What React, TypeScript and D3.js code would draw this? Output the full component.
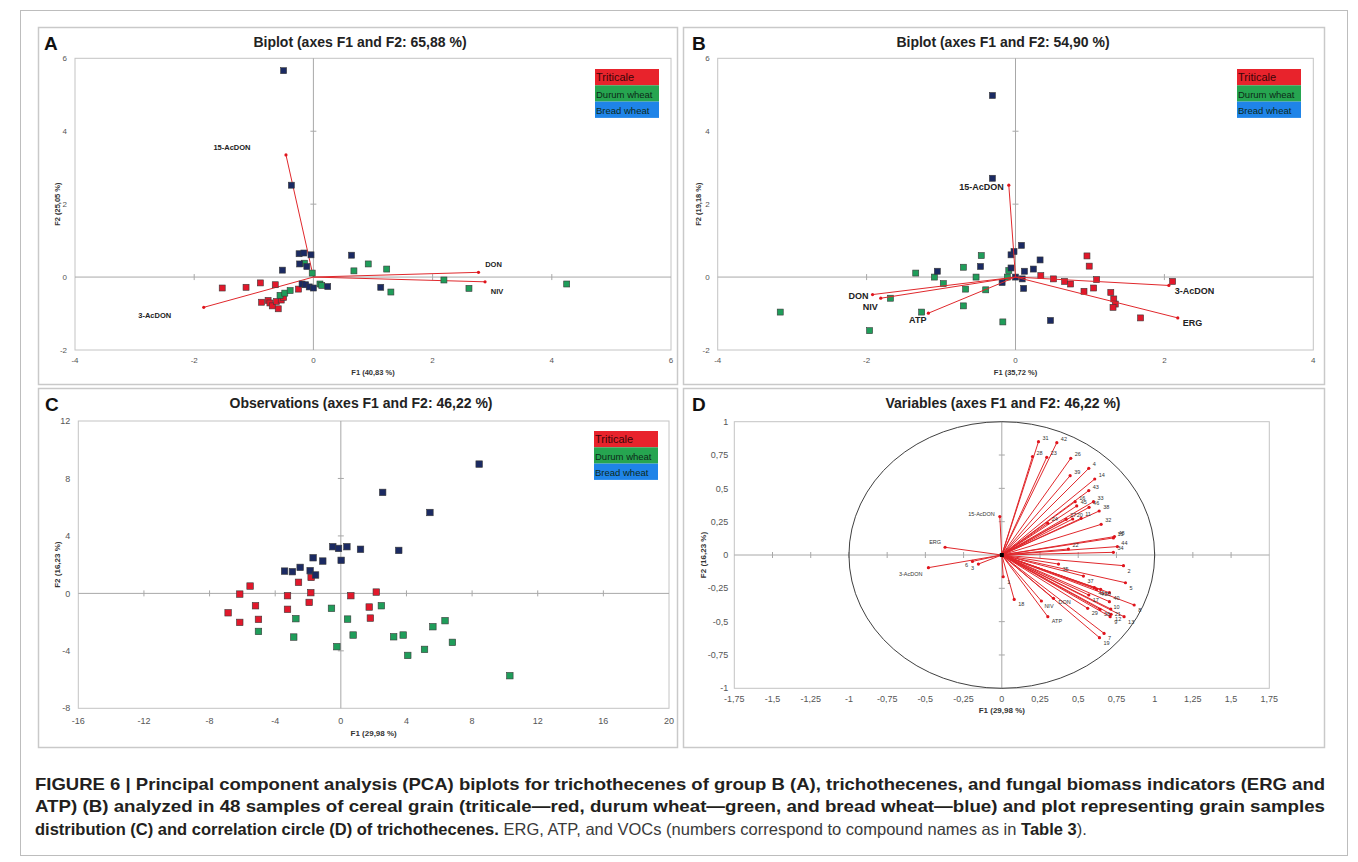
import React from 'react';
import * as d3 from 'd3';

type Pt = [number, number];
type Vec = { name: string; f1: number; f2: number };

const groupNames = ['Triticale', 'Durum wheat', 'Bread wheat'];
const markerFill = ['#e2182b', '#1f9d5a', '#1b2a62'];
const legendFill = ['#e8232c', '#26a550', '#1f84e8'];

// Panel A: trichothecenes of group B (observations F1, F2)
const aTriticale: Pt[] = [[-1.53, -0.3], [-1.13, -0.28], [-0.89, -0.16], [-0.64, -0.21], [-0.25, -0.33], [-0.87, -0.69], [-0.76, -0.64], [-0.73, -0.71], [-0.69, -0.79], [-0.62, -0.67], [-0.59, -0.87], [-0.54, -0.63], [-0.5, -0.56]];
const aDurum: Pt[] = [[-0.56, -0.5], [-0.48, -0.44], [-0.39, -0.37], [-0.15, 0.38], [-0.02, 0.11], [0.11, -0.19], [0.14, -0.23], [0.68, 0.17], [0.92, 0.36], [1.23, 0.22], [2.19, -0.08], [2.61, -0.31], [1.3, -0.41], [4.25, -0.19]];
const aBread: Pt[] = [[-0.5, 5.66], [-0.37, 2.52], [-0.24, 0.64], [-0.16, 0.66], [-0.04, 0.61], [-0.23, 0.36], [-0.11, 0.29], [-0.52, 0.19], [-0.19, -0.19], [-0.13, -0.21], [-0.07, -0.27], [0.0, -0.3], [0.24, -0.26], [0.64, 0.6], [1.13, -0.28]];
const aVars: Vec[] = [
  { name: '15-AcDON', f1: -0.46, f2: 3.35 },
  { name: '3-AcDON', f1: -1.84, f2: -0.83 },
  { name: 'DON', f1: 2.77, f2: 0.13 },
  { name: 'NIV', f1: 2.88, f2: -0.13 },
];
const aXTicks = [-4, -2, 0, 2, 4, 6];
const aYTicks = [-2, 0, 2, 4, 6];

// Panel B: trichothecenes + ERG, ATP
const bTriticale: Pt[] = [[0.96, 0.58], [0.99, 0.3], [0.34, 0.04], [0.51, -0.05], [0.66, -0.12], [0.74, -0.19], [1.09, -0.07], [0.92, -0.39], [1.05, -0.3], [1.28, -0.42], [1.32, -0.6], [1.34, -0.74], [1.31, -0.83], [1.68, -1.12], [2.11, -0.12]];
const bDurum: Pt[] = [[-3.16, -0.96], [-1.96, -1.47], [-1.68, -0.58], [-1.34, 0.11], [-1.26, -0.96], [-1.09, 0.0], [-0.97, -0.18], [-0.7, 0.27], [-0.67, -0.33], [-0.7, -0.79], [-0.53, 0.0], [-0.46, 0.59], [-0.4, -0.35], [-0.17, -1.23], [-0.09, 0.18], [-0.11, 0.0]];
const bBread: Pt[] = [[-0.31, 4.98], [-0.31, 2.71], [-0.47, 0.29], [-1.05, 0.16], [-0.18, -0.15], [-0.06, 0.61], [-0.02, 0.7], [0.08, 0.87], [-0.06, 0.25], [0.0, 0.0], [0.09, -0.05], [0.12, 0.16], [0.11, -0.31], [0.24, 0.22], [0.33, 0.47], [0.47, -1.19]];
const bVars: Vec[] = [
  { name: '15-AcDON', f1: -0.09, f2: 2.52 },
  { name: '3-AcDON', f1: 2.06, f2: -0.23 },
  { name: 'ERG', f1: 2.18, f2: -1.12 },
  { name: 'DON', f1: -1.92, f2: -0.48 },
  { name: 'NIV', f1: -1.81, f2: -0.58 },
  { name: 'ATP', f1: -1.17, f2: -0.99 },
];
const bXTicks = [-4, -2, 0, 2, 4];
const bYTicks = [-2, 0, 2, 4, 6];

// Panel C: observations
const cTriticale: Pt[] = [[-6.87, -1.35], [-6.16, -0.05], [-6.16, -2.02], [-5.53, 0.51], [-5.2, -0.86], [-5.02, -1.81], [-3.25, -0.16], [-3.25, -1.11], [-2.58, 0.77], [-1.81, 1.11], [-1.83, 0.05], [-1.93, -0.63], [0.61, -0.16], [2.16, 0.09], [1.73, -0.95], [1.8, -1.72]];
const cDurum: Pt[] = [[-5.02, -2.65], [-2.87, -3.04], [-2.74, -1.76], [-0.57, -1.04], [-0.24, -3.71], [0.41, -1.79], [0.75, -2.9], [2.47, -0.86], [3.22, -3.02], [3.8, -2.9], [4.08, -4.32], [5.1, -3.9], [5.61, -2.32], [6.35, -1.9], [6.8, -3.41], [10.3, -5.73]];
const cBread: Pt[] = [[-3.43, 1.55], [-2.95, 1.51], [-2.48, 1.81], [-1.87, 1.58], [-1.69, 2.48], [-1.54, 1.28], [-1.1, 2.25], [-0.49, 3.25], [-0.14, 3.13], [0.37, 3.25], [0.02, 2.3], [1.2, 3.07], [3.53, 2.99], [5.43, 5.63], [2.55, 7.03], [8.43, 9.0]];
const cXTicks = [-16, -12, -8, -4, 0, 4, 8, 12, 16, 20];
const cYTicks = [-8, -4, 0, 4, 8, 12];

// Panel D: correlation circle
const dVars: Vec[] = [
  { name: '31', f1: 0.24, f2: 0.85 }, { name: '42', f1: 0.36, f2: 0.843 },
  { name: '28', f1: 0.201, f2: 0.738 }, { name: '23', f1: 0.294, f2: 0.733 },
  { name: '26', f1: 0.451, f2: 0.725 }, { name: '4', f1: 0.569, f2: 0.65 },
  { name: '39', f1: 0.447, f2: 0.595 }, { name: '14', f1: 0.608, f2: 0.57 },
  { name: '43', f1: 0.569, f2: 0.483 }, { name: '33', f1: 0.6, f2: 0.4 },
  { name: '16', f1: 0.48, f2: 0.4 }, { name: '45', f1: 0.49, f2: 0.368 },
  { name: '46', f1: 0.571, f2: 0.358 }, { name: '38', f1: 0.637, f2: 0.33 },
  { name: '11', f1: 0.519, f2: 0.275 }, { name: '20', f1: 0.464, f2: 0.27 },
  { name: '27', f1: 0.421, f2: 0.268 }, { name: '24', f1: 0.301, f2: 0.238 },
  { name: '32', f1: 0.65, f2: 0.23 }, { name: '15', f1: 0.73, f2: 0.128 },
  { name: '48', f1: 0.737, f2: 0.138 }, { name: '44', f1: 0.756, f2: 0.063 },
  { name: '34', f1: 0.73, f2: 0.02 }, { name: '22', f1: 0.436, f2: 0.045 },
  { name: '2', f1: 0.796, f2: -0.08 }, { name: '5', f1: 0.809, f2: -0.208 },
  { name: '35', f1: 0.371, f2: -0.068 }, { name: '37', f1: 0.534, f2: -0.158 },
  { name: '41', f1: 0.606, f2: -0.245 }, { name: '47', f1: 0.621, f2: -0.258 },
  { name: '30', f1: 0.647, f2: -0.258 }, { name: '40', f1: 0.704, f2: -0.283 },
  { name: '17', f1: 0.569, f2: -0.3 }, { name: '10', f1: 0.704, f2: -0.35 },
  { name: '21', f1: 0.713, f2: -0.405 }, { name: '8', f1: 0.866, f2: -0.375 },
  { name: '29', f1: 0.562, f2: -0.4 }, { name: '36', f1: 0.643, f2: -0.408 },
  { name: '12', f1: 0.715, f2: -0.445 }, { name: '9', f1: 0.709, f2: -0.463 },
  { name: '13', f1: 0.8, f2: -0.463 }, { name: '7', f1: 0.669, f2: -0.588 },
  { name: '19', f1: 0.639, f2: -0.62 }, { name: '1', f1: 0.009, f2: -0.163 },
  { name: '18', f1: 0.081, f2: -0.333 }, { name: 'NIV', f1: 0.259, f2: -0.345 },
  { name: 'DON', f1: 0.338, f2: -0.325 }, { name: 'ATP', f1: 0.301, f2: -0.463 },
  { name: '15-AcDON', f1: -0.013, f2: 0.288 }, { name: 'ERG', f1: -0.371, f2: 0.058 },
  { name: '3-AcDON', f1: -0.48, f2: -0.095 }, { name: '6', f1: -0.192, f2: -0.048 },
  { name: '3', f1: -0.153, f2: -0.068 },
];
const dXTicks = [-1.75, -1.5, -1.25, -1, -0.75, -0.5, -0.25, 0, 0.25, 0.5, 0.75, 1, 1.25, 1.5, 1.75];
const dYTicks = [-1, -0.75, -0.5, -0.25, 0, 0.25, 0.5, 0.75, 1];

const FONT = 'Arial, "Liberation Sans", Helvetica, sans-serif';
const loc = d3.formatLocale({ decimal: ',', thousands: ' ', grouping: [3], currency: ['', ''], minus: '-' });
const fmt = loc.format('~g');

type Anchor = 'start' | 'middle' | 'end';
type Place = [number, number, Anchor];

interface PanelCfg {
  box: [number, number, number, number];
  plot: [number, number, number, number];
  xDomain: [number, number];
  yDomain: [number, number];
  xTicks: number[];
  yTicks: number[];
  letter: string;
  letterPos: [number, number];
  title: string;
  titleX: number;
  titleY: number;
  xTitle: string;
  yTitle: string;
  xTitleY: number;
  yTitleX: number;
  tickFont: number;
  axisFont: number;
  xTickGap: number;
  yTickGap: number;
}

function PanelFrame({ cfg, children }: { cfg: PanelCfg; children: (x: d3.ScaleLinear<number, number>, y: d3.ScaleLinear<number, number>) => React.ReactNode }) {
  const [bx0, by0, bx1, by1] = cfg.box;
  const [px0, py0, px1, py1] = cfg.plot;
  const x = d3.scaleLinear().domain(cfg.xDomain).range([px0, px1]);
  const y = d3.scaleLinear().domain(cfg.yDomain).range([py1, py0]);
  const x0 = x(0);
  const y0 = y(0);
  return (
    <g>
      <rect x={bx0 + 0.5} y={by0 + 0.5} width={bx1 - bx0} height={by1 - by0} fill="#fff" stroke="#c9c9c9" strokeWidth={1.5} />
      <rect x={px0} y={py0} width={px1 - px0} height={py1 - py0} fill="#fff" stroke="#c4c4c4" strokeWidth={1} />
      <line x1={px0} x2={px1} y1={y0} y2={y0} stroke="#a8a8a8" strokeWidth={1} />
      <line x1={x0} x2={x0} y1={py0} y2={py1} stroke="#a8a8a8" strokeWidth={1} />
      {cfg.xTicks.filter(t => t !== cfg.xDomain[0] && t !== cfg.xDomain[1] && t !== 0).map(t => (
        <line key={'xt' + t} x1={x(t)} x2={x(t)} y1={y0 - 3} y2={y0 + 3} stroke="#a8a8a8" />
      ))}
      {cfg.yTicks.filter(t => t !== cfg.yDomain[0] && t !== cfg.yDomain[1] && t !== 0).map(t => (
        <line key={'yt' + t} x1={x0 - 3} x2={x0 + 3} y1={y(t)} y2={y(t)} stroke="#a8a8a8" />
      ))}
      <g fontFamily={FONT} fontSize={cfg.tickFont} fill="#555">
        {cfg.xTicks.map(t => (
          <text key={'xl' + t} x={x(t)} y={py1 + cfg.xTickGap} textAnchor="middle">{fmt(t)}</text>
        ))}
        {cfg.yTicks.map(t => (
          <text key={'yl' + t} x={px0 - cfg.yTickGap} y={y(t) + cfg.tickFont * 0.35} textAnchor="end">{fmt(t)}</text>
        ))}
      </g>
      <text x={(px0 + px1) / 2} y={cfg.xTitleY} textAnchor="middle" fontFamily={FONT} fontWeight="bold" fontSize={cfg.axisFont} fill="#333">{cfg.xTitle}</text>
      <text transform={`translate(${cfg.yTitleX},${(py0 + py1) / 2}) rotate(-90)`} textAnchor="middle" fontFamily={FONT} fontWeight="bold" fontSize={cfg.axisFont} fill="#333">{cfg.yTitle}</text>
      <text x={cfg.letterPos[0]} y={cfg.letterPos[1]} fontFamily={FONT} fontWeight="bold" fontSize={19} fill="#111">{cfg.letter}</text>
      <text x={cfg.titleX} y={cfg.titleY} textAnchor="middle" fontFamily={FONT} fontWeight="bold" fontSize={14} fill="#222">{cfg.title}</text>
      {children(x, y)}
    </g>
  );
}

function Legend({ x0, y0 }: { x0: number; y0: number }) {
  const rowH = 16.3;
  const w = 64;
  return (
    <g fontFamily={FONT}>
      {groupNames.map((g, i) => (
        <g key={g}>
          <rect x={x0} y={y0 + i * rowH} width={w} height={rowH} fill={legendFill[i]} />
          <text x={x0 + 1} y={y0 + i * rowH + rowH - 4} fontSize={i === 0 ? 11 : 9.5} fill={i === 0 ? '#3a0508' : '#0d2a18'}>{g}</text>
        </g>
      ))}
    </g>
  );
}

function Markers({ sets, x, y, size }: { sets: Pt[][]; x: d3.ScaleLinear<number, number>; y: d3.ScaleLinear<number, number>; size: number }) {
  return (
    <g>
      {sets.map((pts, gi) => pts.map((p, i) => (
        <rect key={gi + '-' + i} x={x(p[0]) - size / 2} y={y(p[1]) - size / 2} width={size} height={size} fill={markerFill[gi]} stroke="#3a3a3a" strokeWidth={0.6} />
      )))}
    </g>
  );
}

function Vectors({ vars, x, y, place, font, bold, color }: { vars: Vec[]; x: d3.ScaleLinear<number, number>; y: d3.ScaleLinear<number, number>; place: (v: Vec) => Place; font: number; bold: boolean; color: string }) {
  return (
    <g>
      {vars.map(v => (
        <line key={'l' + v.name} x1={x(0)} y1={y(0)} x2={x(v.f1)} y2={y(v.f2)} stroke="#e0282c" strokeWidth={1} />
      ))}
      {vars.map(v => (
        <circle key={'c' + v.name} cx={x(v.f1)} cy={y(v.f2)} r={1.6} fill="#e0141c" />
      ))}
      {vars.map(v => {
        const [dx, dy, anchor] = place(v);
        return (
          <text key={'t' + v.name} x={x(v.f1) + dx} y={y(v.f2) + dy} textAnchor={anchor} fontFamily={FONT} fontSize={font} fontWeight={bold ? 'bold' : 'normal'} fill={color}>{v.name}</text>
        );
      })}
    </g>
  );
}

const cfgA: PanelCfg = {
  box: [38, 27, 677, 384], plot: [75, 58.3, 671, 350], xDomain: [-4, 6], yDomain: [-2, 6],
  xTicks: aXTicks, yTicks: aYTicks, letter: 'A', letterPos: [44, 50],
  title: 'Biplot (axes F1 and F2: 65,88 %)', titleX: 360, titleY: 47,
  xTitle: 'F1 (40,83 %)', yTitle: 'F2 (25,05 %)', xTitleY: 375, yTitleX: 60,
  tickFont: 8, axisFont: 7.5, xTickGap: 13, yTickGap: 8,
};
const cfgB: PanelCfg = {
  box: [683, 27, 1324, 384], plot: [717.7, 58.3, 1313.3, 350], xDomain: [-4, 4], yDomain: [-2, 6],
  xTicks: bXTicks, yTicks: bYTicks, letter: 'B', letterPos: [692, 50],
  title: 'Biplot (axes F1 and F2: 54,90 %)', titleX: 1003, titleY: 47,
  xTitle: 'F1 (35,72 %)', yTitle: 'F2 (19,18 %)', xTitleY: 375, yTitleX: 701,
  tickFont: 8, axisFont: 7.5, xTickGap: 13, yTickGap: 8,
};
const cfgC: PanelCfg = {
  box: [38, 388, 677, 747], plot: [78.3, 421, 669, 708.3], xDomain: [-16, 20], yDomain: [-8, 12],
  xTicks: cXTicks, yTicks: cYTicks, letter: 'C', letterPos: [45, 411],
  title: 'Observations (axes F1 and F2: 46,22 %)', titleX: 361, titleY: 408,
  xTitle: 'F1 (29,98 %)', yTitle: 'F2 (16,23 %)', xTitleY: 736, yTitleX: 60,
  tickFont: 9, axisFont: 8, xTickGap: 16, yTickGap: 8,
};
const cfgD: PanelCfg = {
  box: [683, 388, 1324, 747], plot: [734.3, 421.7, 1269.3, 688.3], xDomain: [-1.75, 1.75], yDomain: [-1, 1],
  xTicks: dXTicks, yTicks: dYTicks, letter: 'D', letterPos: [692, 411],
  title: 'Variables (axes F1 and F2: 46,22 %)', titleX: 1003, titleY: 408,
  xTitle: 'F1 (29,98 %)', yTitle: 'F2 (16,23 %)', xTitleY: 713, yTitleX: 706,
  tickFont: 9, axisFont: 8, xTickGap: 14, yTickGap: 6,
};

const aPlace: Record<string, Place> = {
  '15-AcDON': [-54, -5, 'middle'], '3-AcDON': [-49, 11, 'middle'], DON: [15, -5, 'middle'], NIV: [12, 12, 'middle'],
};
const bPlace: Record<string, Place> = {
  '15-AcDON': [-5, 5, 'end'], '3-AcDON': [6, 9, 'start'], ERG: [5, 8, 'start'],
  DON: [-4, 4, 'end'], NIV: [-3, 11.5, 'end'], ATP: [-2, 10, 'end'],
};
const dPlace: Record<string, Place> = {
  '15-AcDON': [-5, -1, 'end'], ERG: [-4, -3, 'end'], '3-AcDON': [-6, 8, 'end'],
  NIV: [3, 7, 'start'], DON: [5, 6, 'start'], ATP: [4, 6, 'start'], '6': [-6, 6, 'middle'], '3': [-6, 6, 'middle'],
};

export default function App() {
  return (
    <div style={{ position: 'absolute', left: 0, top: 0 }}>
      <svg width={1358} height={862} style={{ display: 'block', background: '#fff' }}>
        <rect x={20.5} y={10.5} width={1327} height={845} fill="#fff" stroke="#bdbdbd" strokeWidth={1} />
        <PanelFrame cfg={cfgA}>
          {(x, y) => (
            <g>
              <Vectors vars={aVars} x={x} y={y} place={v => aPlace[v.name]} font={7.5} bold color="#222" />
              <Markers sets={[aTriticale, aDurum, aBread]} x={x} y={y} size={6} />
              <Legend x0={595} y0={69} />
            </g>
          )}
        </PanelFrame>
        <PanelFrame cfg={cfgB}>
          {(x, y) => (
            <g>
              <Markers sets={[bTriticale, bDurum, bBread]} x={x} y={y} size={6} />
              <Vectors vars={bVars} x={x} y={y} place={v => bPlace[v.name]} font={9} bold color="#222" />
              <Legend x0={1237} y0={69} />
            </g>
          )}
        </PanelFrame>
        <PanelFrame cfg={cfgC}>
          {(x, y) => (
            <g>
              <Markers sets={[cTriticale, cDurum, cBread]} x={x} y={y} size={6.5} />
              <Legend x0={594} y0={431} />
            </g>
          )}
        </PanelFrame>
        <PanelFrame cfg={cfgD}>
          {(x, y) => (
            <g>
              <ellipse cx={x(0)} cy={y(0)} rx={x(1) - x(0)} ry={y(0) - y(1)} fill="none" stroke="#404040" strokeWidth={1} />
              <Vectors vars={dVars} x={x} y={y} place={v => dPlace[v.name] ?? [4, v.f2 > 0 ? -2 : 7, 'start']} font={5.5} bold={false} color="#333" />
              <rect x={x(0) - 2} y={y(0) - 2} width={4} height={4} fill="#000" />
            </g>
          )}
        </PanelFrame>
        <g fontFamily={FONT} fontSize={16.5} fill="#231f20">
          <text x={35} y={790} fontWeight="bold" textLength={1290} lengthAdjust="spacingAndGlyphs">FIGURE 6 | Principal component analysis (PCA) biplots for trichothecenes of group B (A), trichothecenes, and fungal biomass indicators (ERG and</text>
          <text x={35} y={812} fontWeight="bold" textLength={1290} lengthAdjust="spacingAndGlyphs">ATP) (B) analyzed in 48 samples of cereal grain (triticale—red, durum wheat—green, and bread wheat—blue) and plot representing grain samples</text>
          <text x={35} y={835}>
            <tspan fontWeight="bold">distribution (C) and correlation circle (D) of trichothecenes.</tspan>
            <tspan fill="#3a3a3a"> ERG, ATP, and VOCs (numbers correspond to compound names as in </tspan>
            <tspan fontWeight="bold">Table 3</tspan>
            <tspan fill="#3a3a3a">).</tspan>
          </text>
        </g>
      </svg>
    </div>
  );
}
